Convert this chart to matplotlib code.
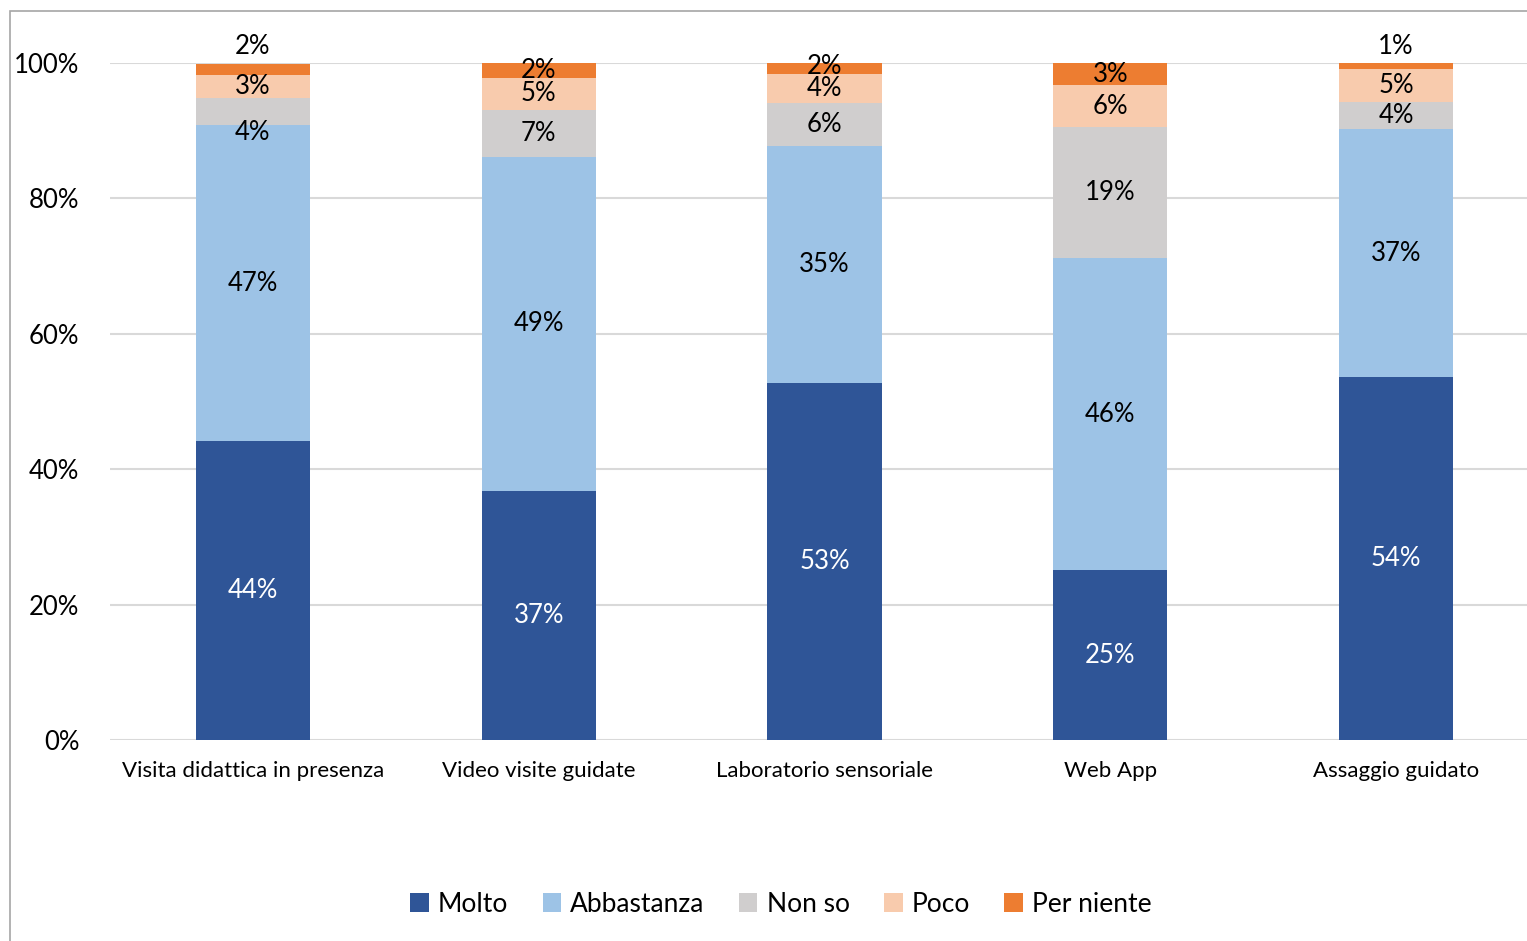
import matplotlib.pyplot as plt
import matplotlib.patches as mpatches
import numpy as np

plt.rcParams['font.family'] = ['Lato', 'DejaVu Sans']

categories = ['Visita didattica in presenza', 'Video visite guidate',
              'Laboratorio sensoriale', 'Web App', 'Assaggio guidato']
series = ['Molto', 'Abbastanza', 'Non so', 'Poco', 'Per niente']
molto = [44.2, 36.8, 52.7, 25.1, 53.6]
abbastanza = [46.6, 49.3, 35.0, 46.1, 36.6]
non_so = [4.1, 7.0, 6.4, 19.3, 4.0]
poco = [3.4, 4.7, 4.3, 6.2, 4.9]
per_niente = [1.6, 2.2, 1.6, 3.3, 1.0]
yticks = [0, 20, 40, 60, 80, 100]

colors = ['#2F5597', '#9DC3E6', '#D0CECE', '#F8CBAD', '#ED7D31']
text_colors = ['white', 'black', 'black', 'black', 'black']
# labels excel pushed outside the bar / nudged
above = {(4, 0), (4, 4)}

fig = plt.figure(figsize=(15.27, 9.41), dpi=100)
ax = fig.add_axes([110 / 1527, 201 / 941, 1429 / 1527, 677 / 941])

# outer frame like the exported excel chart
fig.patches.append(mpatches.Rectangle((10 / 1527, -0.01), 1.0, 1 - 11 / 941 + 0.01,
                                      transform=fig.transFigure, fill=False,
                                      edgecolor='#A6A6A6', linewidth=1.2))

x = np.arange(len(categories))
data = [molto, abbastanza, non_so, poco, per_niente]
bottom = np.zeros(len(categories))
for i, (name, vals) in enumerate(zip(series, data)):
    vals = np.array(vals)
    ax.bar(x, vals, width=0.4, bottom=bottom, color=colors[i], label=name, zorder=3)
    for j, v in enumerate(vals):
        y = bottom[j] + v / 2
        if (i, j) in above:
            y = 102.5
        elif i == 2 and j == 0:
            y = bottom[j] - 1
        elif i == 4 and j == 2:
            y += 0.3
        ax.text(x[j], y, f'{v:.0f}%', ha='center', va='center', fontsize=18.5,
                color=text_colors[i], zorder=4, clip_on=False)
    bottom += vals

ax.set_xlim(-0.5, len(categories) - 0.5)
ax.set_ylim(0, 100)
ax.set_yticks(yticks)
ax.set_yticklabels([f'{t}%' for t in yticks], fontsize=18.5)
ax.set_xticks(x)
ax.set_xticklabels(categories, fontsize=16)
ax.tick_params(length=0)
ax.tick_params(axis='y', pad=22)
ax.tick_params(axis='x', pad=15)
ax.grid(axis='y', color='#D9D9D9', linewidth=1.5, zorder=0)
for s in ax.spines.values():
    s.set_visible(False)

fig.legend(loc='center', bbox_to_anchor=(781 / 1527, 1 - 904 / 941), ncol=5,
           frameon=False, fontsize=19, handlelength=0.7, handleheight=0.7,
           handletextpad=0.35, columnspacing=1.3)

plt.savefig('out.png', dpi=100)
